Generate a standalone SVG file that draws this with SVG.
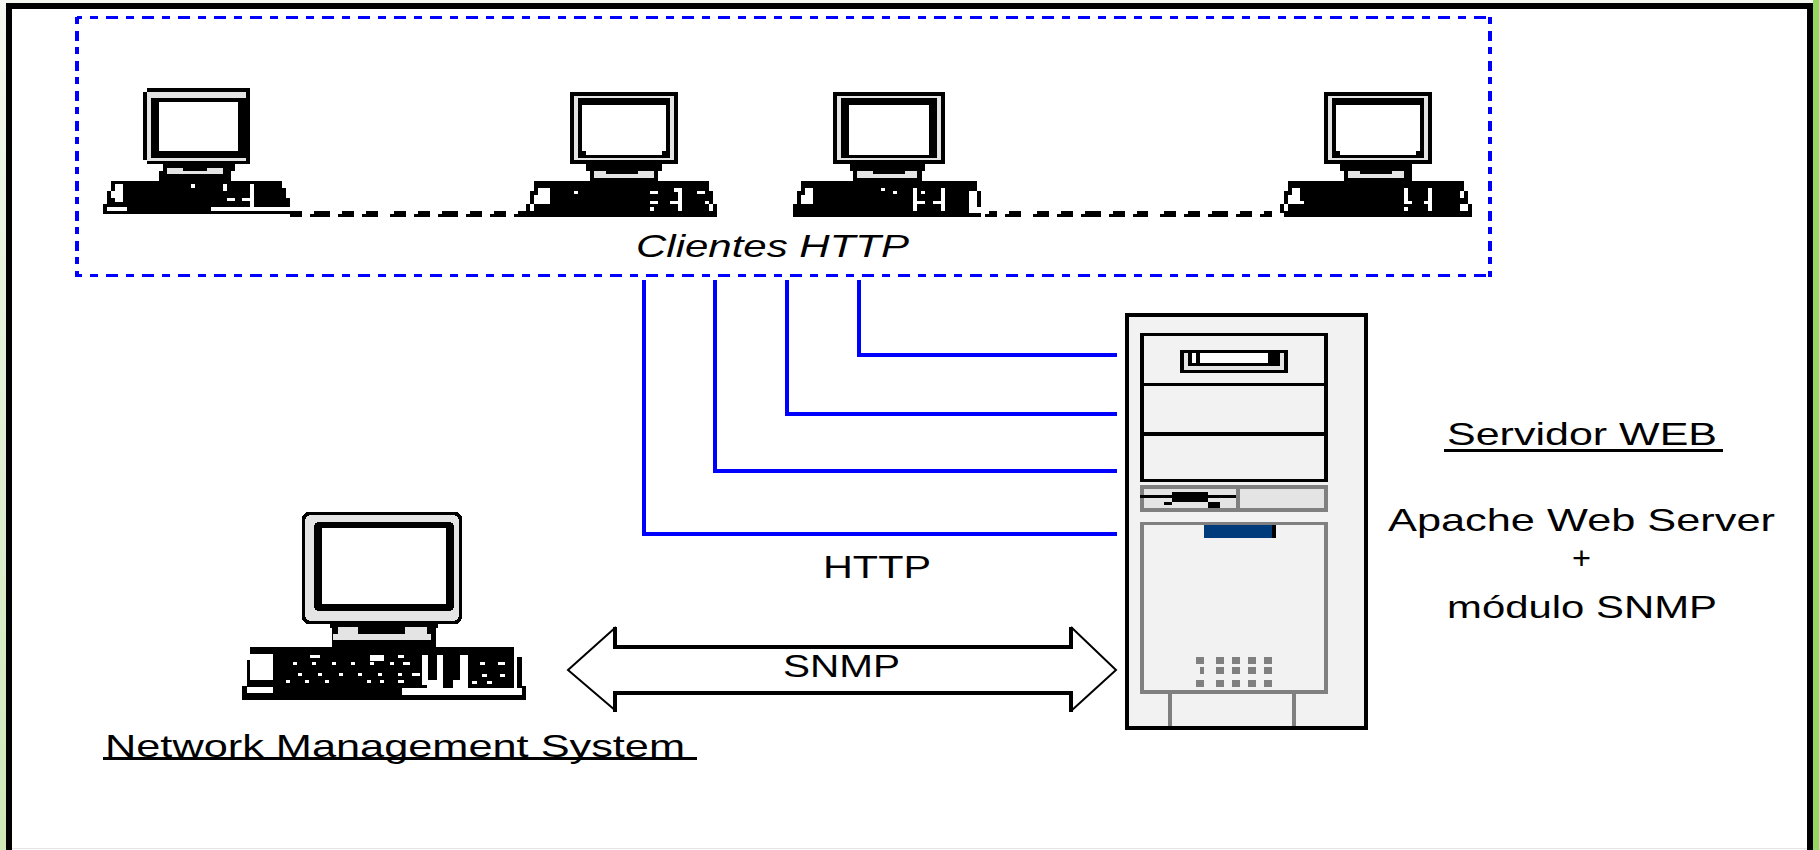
<svg xmlns="http://www.w3.org/2000/svg" width="1819" height="850" viewBox="0 0 1819 850">
<style>
.t{font-family:"Liberation Sans",Arial,sans-serif;font-size:32px;fill:#000}
.k{fill:#000}.w{fill:#fff}.g{fill:#e4e4e4}.s{fill:#808080}
.hd{fill:none;stroke:#0000ff;stroke-width:3;stroke-dasharray:12 8 8 8;stroke-dashoffset:7}
.vd{fill:none;stroke:#0000ff;stroke-width:4;stroke-dasharray:7 7 10 6}
rect,.c{shape-rendering:crispEdges}
</style>
<defs>
<linearGradient id="edge" x1="0" y1="0" x2="0" y2="1"><stop offset="0" stop-color="#f4f8f0"/><stop offset="1" stop-color="#cfe8b8"/></linearGradient>
<g id="mon">
<rect class="k" width="108" height="72"/>
<rect class="g" x="4" y="4" width="100" height="64"/>
<rect class="k" x="8" y="6" width="92" height="60"/>
<rect class="w" x="12" y="13" width="84" height="50"/>
<rect class="k" x="12" y="59" width="4" height="4"/>
<rect class="k" x="92" y="59" width="4" height="4"/>
</g>
</defs>
<rect width="1819" height="850" fill="url(#edge)"/>
<rect x="1813" width="6" height="850" fill="#90d860"/>
<rect x="6" y="3" width="1807" height="847" class="k"/>
<rect x="12" y="9" width="1795" height="841" class="w"/>
<rect x="12" y="848" width="1795" height="1" class="g"/>
<g id="clientes">
<path class="hd c" d="M77 17.500H1490M77 275.500H1490"/>
<path class="vd c" d="M77 17V277M1490 17V277"/>
<text class="t" x="636" y="257" textLength="273" lengthAdjust="spacingAndGlyphs" font-style="italic">Clientes HTTP</text>
</g>
<g id="pc1">
<rect class="k" x="147" y="88" width="103" height="76"/><rect class="k" x="143" y="92" width="4" height="68"/>
<rect class="g" x="147" y="92" width="99" height="6"/><rect class="g" x="147" y="98" width="4" height="63"/><rect class="g" x="151" y="158" width="95" height="3"/>
<rect class="w" x="159" y="102" width="79" height="49"/>
<rect class="k" x="163" y="164" width="72" height="7"/><rect class="k" x="159" y="171" width="72" height="10"/>
<rect class="g" x="167" y="168" width="56" height="6"/><rect class="k" x="183" y="168" width="24" height="3"/>
<rect class="k" x="111" y="181" width="171" height="26"/><rect class="k" x="282" y="188" width="4" height="19"/><rect class="k" x="286" y="198" width="4" height="9"/>
<rect class="k" x="107" y="191" width="4" height="16"/>
<rect class="k" x="103" y="204" width="4" height="10"/><rect class="k" x="103" y="211" width="183" height="3"/><rect class="k" x="127" y="207" width="84" height="4"/>
<rect class="w" x="115" y="184" width="8" height="18"/><rect class="w" x="111" y="191" width="4" height="7"/>
<rect class="w" x="107" y="207" width="20" height="4"/><rect class="w" x="211" y="207" width="75" height="4"/>
<rect class="w" x="191" y="184" width="4" height="4"/><rect class="w" x="223" y="184" width="4" height="7"/><rect class="w" x="227" y="198" width="8" height="3"/><rect class="w" x="242" y="198" width="8" height="3"/><rect class="w" x="250" y="184" width="4" height="23"/>
</g>
<g id="pc2">
<use href="#mon" x="570" y="92"/>
<rect class="k" x="586" y="164" width="76" height="7"/><rect class="k" x="590" y="171" width="68" height="10"/>
<rect class="g" x="594" y="171" width="60" height="7"/><rect class="k" x="606" y="171" width="32" height="3"/>
<rect class="k" x="534" y="181" width="175" height="36"/><rect class="k" x="709" y="191" width="4" height="26"/><rect class="k" x="713" y="204" width="4" height="13"/>
<rect class="k" x="530" y="191" width="4" height="13"/><rect class="k" x="526" y="204" width="4" height="13"/><rect class="k" x="518" y="211" width="16" height="6"/>
<rect class="w" x="538" y="188" width="12" height="16"/><rect class="w" x="534" y="195" width="4" height="9"/><rect class="w" x="530" y="204" width="4" height="7"/>
<rect class="w" x="574" y="191" width="4" height="3"/><rect class="w" x="650" y="191" width="8" height="3"/><rect class="w" x="650" y="201" width="8" height="3"/><rect class="w" x="650" y="207" width="4" height="4"/>
<rect class="w" x="674" y="188" width="8" height="4"/><rect class="w" x="678" y="192" width="4" height="19"/><rect class="w" x="670" y="201" width="8" height="3"/>
<rect class="w" x="697" y="191" width="8" height="3"/><rect class="w" x="705" y="201" width="4" height="3"/><rect class="w" x="709" y="204" width="4" height="7"/>
</g>
<g id="pc3">
<rect class="k" x="833" y="92" width="112" height="72"/>
<rect class="g" x="837" y="96" width="104" height="64"/>
<rect class="k" x="841" y="98" width="96" height="60"/>
<rect class="w" x="849" y="105" width="80" height="50"/>
<rect class="k" x="850" y="164" width="75" height="7"/><rect class="k" x="853" y="171" width="69" height="10"/>
<rect class="g" x="857" y="171" width="60" height="7"/><rect class="k" x="873" y="171" width="32" height="3"/>
<rect class="k" x="801" y="181" width="176" height="10"/><rect class="k" x="801" y="191" width="172" height="26"/>
<rect class="k" x="797" y="191" width="4" height="13"/><rect class="k" x="793" y="204" width="8" height="13"/>
<rect class="k" x="977" y="191" width="4" height="16"/><rect class="k" x="973" y="213" width="8" height="4"/>
<rect class="w" x="805" y="188" width="8" height="16"/><rect class="w" x="801" y="195" width="4" height="9"/>
<rect class="w" x="881" y="188" width="4" height="3"/><rect class="w" x="893" y="191" width="4" height="3"/>
<rect class="w" x="913" y="188" width="4" height="23"/><rect class="w" x="917" y="201" width="8" height="3"/><rect class="w" x="921" y="191" width="4" height="3"/>
<rect class="w" x="933" y="201" width="8" height="3"/><rect class="w" x="941" y="188" width="4" height="23"/>
<rect class="w" x="969" y="191" width="4" height="16"/><rect class="w" x="969" y="207" width="12" height="6"/>
</g>
<g id="pc4">
<use href="#mon" x="1324" y="92"/>
<rect class="k" x="1340" y="164" width="72" height="7"/><rect class="k" x="1344" y="171" width="68" height="10"/>
<rect class="g" x="1348" y="171" width="56" height="7"/><rect class="k" x="1360" y="171" width="32" height="3"/>
<rect class="k" x="1288" y="181" width="176" height="36"/><rect class="k" x="1464" y="191" width="4" height="26"/><rect class="k" x="1468" y="204" width="4" height="13"/>
<rect class="k" x="1284" y="191" width="4" height="13"/><rect class="k" x="1280" y="204" width="4" height="9"/><rect class="k" x="1284" y="211" width="4" height="6"/>
<rect class="w" x="1292" y="188" width="8" height="16"/><rect class="w" x="1288" y="201" width="16" height="3"/><rect class="w" x="1288" y="195" width="4" height="6"/><rect class="w" x="1284" y="204" width="4" height="7"/>
<rect class="w" x="1404" y="188" width="4" height="16"/><rect class="w" x="1408" y="201" width="4" height="3"/><rect class="w" x="1404" y="207" width="4" height="4"/>
<rect class="w" x="1424" y="201" width="4" height="3"/><rect class="w" x="1428" y="188" width="4" height="23"/>
<rect class="w" x="1460" y="191" width="4" height="7"/><rect class="w" x="1460" y="204" width="8" height="7"/>
</g>
<g id="nms">
<rect class="k" x="302" y="512" width="160" height="112" rx="7"/>
<rect class="g" x="305" y="515" width="154" height="106" rx="6"/>
<rect class="k" x="314" y="522" width="140" height="89" rx="5"/>
<rect class="w" x="322" y="528" width="124" height="76"/>
<rect class="k" x="330" y="624" width="108" height="4"/>
<rect class="k" x="332" y="628" width="104" height="20"/>
<rect class="g" x="338" y="627" width="20" height="7"/><rect class="g" x="405" y="627" width="22" height="7"/><rect class="g" x="333" y="634" width="98" height="6"/>
<rect class="k" x="250" y="647" width="264" height="40"/>
<rect class="k" x="247" y="660" width="3" height="27"/>
<rect class="k" x="517" y="657" width="5" height="32"/>
<rect class="k" x="242" y="686" width="284" height="14"/>
<rect class="w" x="250" y="654" width="23" height="26"/><rect class="w" x="247" y="687" width="26" height="6"/>
<rect class="w" x="402" y="688" width="120" height="7"/><rect class="w" x="514" y="655" width="3" height="33"/>
<g class="w">
<rect x="310" y="655" width="10" height="3"/><rect x="370" y="655" width="14" height="6"/><rect x="398" y="655" width="6" height="3"/>
<rect x="293" y="662" width="4" height="3"/><rect x="312" y="662" width="4" height="3"/><rect x="332" y="662" width="4" height="3"/><rect x="351" y="662" width="4" height="3"/><rect x="370" y="662" width="4" height="3"/><rect x="390" y="662" width="4" height="3"/><rect x="403" y="662" width="7" height="3"/>
<rect x="298" y="673" width="4" height="3"/><rect x="318" y="673" width="4" height="3"/><rect x="339" y="673" width="4" height="3"/><rect x="358" y="673" width="4" height="3"/><rect x="378" y="673" width="4" height="3"/><rect x="398" y="673" width="4" height="3"/><rect x="412" y="673" width="8" height="3"/>
<rect x="286" y="680" width="4" height="3"/><rect x="305" y="680" width="4" height="3"/><rect x="325" y="680" width="4" height="3"/><rect x="367" y="680" width="4" height="3"/><rect x="380" y="680" width="4" height="3"/><rect x="398" y="680" width="6" height="3"/>
<rect x="422" y="655" width="6" height="30"/><rect x="437" y="655" width="6" height="33"/><rect x="460" y="655" width="8" height="33"/>
<rect x="427" y="680" width="13" height="8"/><rect x="453" y="680" width="15" height="8"/>
<rect x="480" y="662" width="5" height="3"/><rect x="498" y="662" width="7" height="3"/><rect x="482" y="674" width="5" height="3"/><rect x="500" y="674" width="5" height="3"/><rect x="487" y="681" width="5" height="3"/><rect x="472" y="681" width="5" height="3"/>
</g>
<text class="t" x="105" y="757" textLength="580" lengthAdjust="spacingAndGlyphs">Network Management System</text>
<rect class="k" x="103" y="757" width="594" height="3"/>
</g>
<g id="servidor">
<rect class="k" x="1125" y="313" width="243" height="417"/>
<rect fill="#f2f2f2" x="1129" y="317" width="235" height="409"/>
<rect class="k" x="1140" y="333" width="188" height="149"/>
<rect fill="#f2f2f2" x="1144" y="336" width="180" height="47"/>
<rect fill="#f2f2f2" x="1144" y="386" width="180" height="46"/>
<rect fill="#f2f2f2" x="1144" y="436" width="180" height="43"/>
<rect class="k" x="1180" y="350" width="108" height="23"/>
<rect class="g" x="1184" y="353" width="100" height="17"/>
<rect class="k" x="1188" y="353" width="92" height="13"/>
<rect class="w" x="1200" y="353" width="68" height="10"/>
<rect class="w" x="1192" y="353" width="4" height="10"/>
<rect class="s" x="1140" y="485" width="188" height="27"/>
<rect class="g" x="1144" y="489" width="92" height="19"/>
<rect class="g" x="1240" y="489" width="84" height="19"/>
<rect class="k" x="1140" y="495" width="96" height="3"/>
<rect class="k" x="1172" y="492" width="36" height="10"/>
<rect class="k" x="1164" y="502" width="8" height="3"/>
<rect class="k" x="1208" y="502" width="12" height="6"/>
<rect class="s" x="1140" y="522" width="188" height="172"/>
<rect fill="#f2f2f2" x="1144" y="525" width="180" height="165"/>
<rect fill="#003c7c" x="1204" y="525" width="68" height="13"/>
<rect class="k" x="1272" y="525" width="4" height="13"/>
<g class="s">
<rect x="1196" y="657" width="8" height="7"/><rect x="1200" y="667" width="4" height="7"/><rect x="1196" y="680" width="8" height="7"/>
<rect x="1216" y="657" width="8" height="7"/><rect x="1216" y="667" width="8" height="7"/><rect x="1216" y="680" width="8" height="7"/>
<rect x="1232" y="657" width="8" height="7"/><rect x="1232" y="667" width="8" height="7"/><rect x="1232" y="680" width="8" height="7"/>
<rect x="1248" y="657" width="8" height="7"/><rect x="1248" y="667" width="8" height="7"/><rect x="1248" y="680" width="8" height="7"/>
<rect x="1264" y="657" width="8" height="7"/><rect x="1264" y="667" width="8" height="7"/><rect x="1264" y="680" width="8" height="7"/>
<rect x="1168" y="694" width="4" height="32"/><rect x="1292" y="694" width="4" height="32"/>
</g>
<text class="t" x="1447" y="445" textLength="270" lengthAdjust="spacingAndGlyphs">Servidor WEB</text>
<rect class="k" x="1444" y="449" width="279" height="3"/>
<text class="t" x="1388" y="531" textLength="387" lengthAdjust="spacingAndGlyphs">Apache Web Server</text>
<text class="t" x="1572" y="569" textLength="19" lengthAdjust="spacingAndGlyphs">+</text>
<text class="t" x="1447" y="618" textLength="270" lengthAdjust="spacingAndGlyphs">módulo SNMP</text>
</g>
<g id="connectors">
<path class="c" fill="none" stroke="#0000ff" stroke-width="4" d="M859 280V354.500H1117M787 280V414H1117M715 280V470.500H1117M644 280V533.500H1117"/>
<path class="k c" d="M290 217V214H286V211H302V217ZM310 217V214H314V211H330V217ZM338 217V214H342V211H354V217ZM362 217V214H366V211H378V217ZM390 217V214H394V211H406V217ZM414 217V214H418V211H430V217ZM438 217V214H442V211H458V217ZM466 217V214H470V211H482V217ZM490 217V214H494V211H506V217ZM514 217V214H518V211H530V217ZM985 217V214H989V211H997V217ZM1005 217V214H1009V211H1021V217ZM1033 217V214H1037V211H1049V217ZM1057 217V214H1061V211H1073V217ZM1081 217V214H1085V211H1101V217ZM1109 217V214H1113V211H1125V217ZM1133 217V214H1137V211H1148V217ZM1160 217V214H1164V211H1176V217ZM1184 217V214H1188V211H1200V217ZM1208 217V214H1212V211H1228V217ZM1236 217V214H1240V211H1252V217ZM1260 217V214H1264V211H1272V217Z"/>
<path d="M616 627L568 670L616 711M1071 627L1116 670L1071 711" fill="#fff" stroke="#000" stroke-width="2"/>
<rect x="612" y="646" width="462" height="46" class="w"/>
<path d="M615 627V646.500H1071V627M615 712V692.500H1071V712" stroke="#000" stroke-width="4" fill="none" class="c"/>
<text class="t" x="823" y="578" textLength="108" lengthAdjust="spacingAndGlyphs">HTTP</text>
<text class="t" x="783" y="677" textLength="117" lengthAdjust="spacingAndGlyphs">SNMP</text>
</g>
</svg>
